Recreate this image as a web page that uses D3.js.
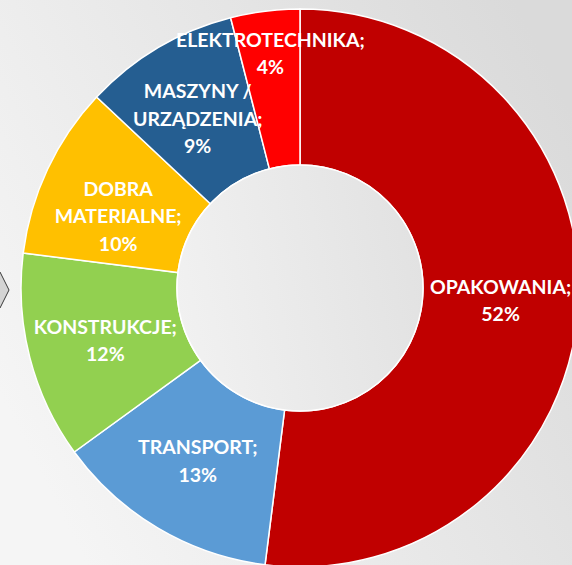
<!DOCTYPE html>
<html>
<head>
<meta charset="utf-8">
<script src="https://cdn.jsdelivr.net/npm/d3@7"></script>
<style>
  html, body { margin: 0; padding: 0; overflow: hidden; }
  #chart { width: 572px; height: 565px; }
</style>
</head>
<body>
<div id="chart"></div>
<script>
// data
const categories = ["OPAKOWANIA", "TRANSPORT", "KONSTRUKCJE", "DOBRA\nMATERIALNE", "MASZYNY /\nURZĄDZENIA", "ELEKTROTECHNIKA"];
const values = [52, 13, 12, 10, 9, 4];
const colors = ["#c00000", "#5b9bd5", "#92d050", "#ffc000", "#255e91", "#ff0000"];

const width = 572, height = 565;
const cx = 300, cy = 288;
const outerR = 279, innerR = 123;
const lineH = 27.5, capH = 13.5;
// label nudges (px, down) to match the slide's hand placement
const labelNudge = { "DOBRA\nMATERIALNE": 14, "MASZYNY /\nURZĄDZENIA": 4, "KONSTRUKCJE": 3 };

const data = categories.map((c, i) => ({ name: c, value: values[i], color: colors[i] }));

const svg = d3.select("#chart")
    .append("svg")
    .attr("width", width)
    .attr("height", height);

const defs = svg.append("defs");

// slide background gradient
const bg = defs.append("linearGradient")
    .attr("id", "bg")
    .attr("x1", "0%").attr("y1", "70%")
    .attr("x2", "100%").attr("y2", "20%");
bg.append("stop").attr("offset", "0%").attr("stop-color", "#f5f5f5");
bg.append("stop").attr("offset", "100%").attr("stop-color", "#dadada");

const hole = defs.append("linearGradient")
    .attr("id", "hole")
    .attr("x1", "0%").attr("y1", "60%")
    .attr("x2", "100%").attr("y2", "40%");
hole.append("stop").attr("offset", "0%").attr("stop-color", "#f1f1f1");
hole.append("stop").attr("offset", "100%").attr("stop-color", "#e2e2e2");

svg.append("rect")
    .attr("width", width)
    .attr("height", height)
    .attr("fill", "url(#bg)");

// little arrow peeking in from the left edge
svg.append("path")
    .attr("d", "M-20,272 L0,272 L9,290 L0,308 L-20,308 Z")
    .attr("fill", "#d4d4d4")
    .attr("stroke", "#3a3a3a")
    .attr("stroke-width", 1);

const pie = d3.pie()
    .sort(null)
    .value(d => d.value);

const arc = d3.arc()
    .innerRadius(innerR)
    .outerRadius(outerR);

const g = svg.append("g")
    .attr("transform", `translate(${cx},${cy})`);

const arcs = pie(data);

g.selectAll("path.slice")
    .data(arcs)
    .join("path")
    .attr("class", "slice")
    .attr("d", arc)
    .attr("fill", d => d.data.color)
    .attr("stroke", "#ffffff")
    .attr("stroke-width", 1.5);

// inner hole
g.append("circle")
    .attr("r", innerR)
    .attr("fill", "url(#hole)")
    .attr("stroke", "#ffffff")
    .attr("stroke-width", 1.5);

// labels: small slices sit further out
const labelArc = d => {
    const r = d.data.value < 5 ? outerR - 43 : (innerR + outerR) / 2;
    return d3.arc().innerRadius(r).outerRadius(r);
};

const labels = g.selectAll("text.label")
    .data(arcs)
    .join("text")
    .attr("class", "label")
    .attr("text-anchor", "middle")
    .style("font-family", "Lato, 'Open Sans', sans-serif")
    .style("font-weight", "bold")
    .style("font-size", "19.5px")
    .style("fill", "#ffffff");

labels.each(function(d) {
    const [x, y] = labelArc(d).centroid(d);
    const lines = d.data.name.split("\n");
    lines[lines.length - 1] += ";";
    lines.push(d.data.value + "%");
    const y0 = y + (labelNudge[d.data.name] || 0) - (lines.length - 1) * lineH / 2 + capH / 2;
    d3.select(this).selectAll("tspan")
        .data(lines)
        .join("tspan")
        .attr("x", x)
        .attr("y", (t, i) => y0 + i * lineH)
        .text(t => t);
});
</script>
</body>
</html>
